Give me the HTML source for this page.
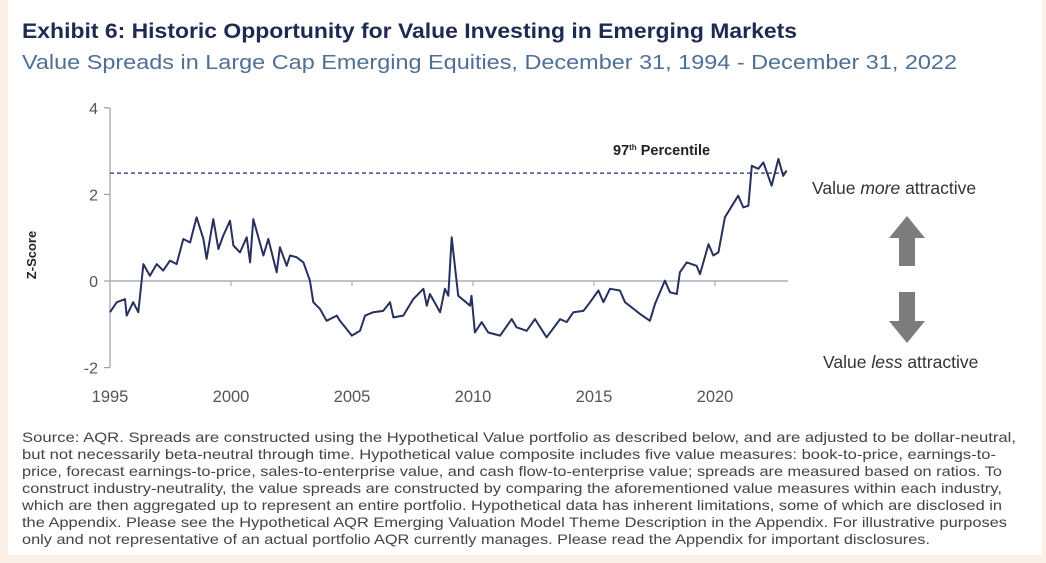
<!DOCTYPE html>
<html><head><meta charset="utf-8"><style>
body{margin:0;background:#fcefe6;}
svg{display:block;font-family:"Liberation Sans",sans-serif;}
</style></head><body>
<svg width="1046" height="563" viewBox="0 0 1046 563">
<rect x="8" y="0" width="1034" height="555" fill="#ffffff"/>
<text x="22" y="38" font-size="21" font-weight="bold" fill="#1f2a52" textLength="775" lengthAdjust="spacingAndGlyphs">Exhibit 6: Historic Opportunity for Value Investing in Emerging Markets</text>
<text x="22" y="69" font-size="20.5" fill="#4f6f96" textLength="935" lengthAdjust="spacingAndGlyphs">Value Spreads in Large Cap Emerging Equities, December 31, 1994 - December 31, 2022</text>
<g id="plot"></g>
<text transform="translate(36,255) rotate(-90)" text-anchor="middle" font-size="13" font-weight="bold" fill="#222">Z-Score</text>
<text x="613" y="155" font-size="14.5" font-weight="bold" fill="#222">97<tspan font-size="8" dy="-5">th</tspan><tspan dy="5"> Percentile</tspan></text>
<text x="812" y="194" font-size="17.5" fill="#333">Value <tspan font-style="italic">more</tspan> attractive</text>
<text x="823" y="368" font-size="17.5" fill="#333">Value <tspan font-style="italic">less</tspan> attractive</text>
<polygon points="907,216 889,238 899,238 899,266 915,266 915,238 925,238" fill="#7c7c7c"/>
<polygon points="907,343 889,321 899,321 899,292 915,292 915,321 925,321" fill="#7c7c7c"/>
<g font-size="14" fill="#444">
<text x="22" y="442" textLength="994" lengthAdjust="spacingAndGlyphs">Source: AQR. Spreads are constructed using the Hypothetical Value portfolio as described below, and are adjusted to be dollar-neutral,</text>
<text x="22" y="459" textLength="974" lengthAdjust="spacingAndGlyphs">but not necessarily beta-neutral through time. Hypothetical value composite includes five value measures: book-to-price, earnings-to-</text>
<text x="22" y="476" textLength="980" lengthAdjust="spacingAndGlyphs">price, forecast earnings-to-price, sales-to-enterprise value, and cash flow-to-enterprise value; spreads are measured based on ratios. To</text>
<text x="22" y="493" textLength="980" lengthAdjust="spacingAndGlyphs">construct industry-neutrality, the value spreads are constructed by comparing the aforementioned value measures within each industry,</text>
<text x="22" y="510" textLength="980" lengthAdjust="spacingAndGlyphs">which are then aggregated up to represent an entire portfolio. Hypothetical data has inherent limitations, some of which are disclosed in</text>
<text x="22" y="527" textLength="985" lengthAdjust="spacingAndGlyphs">the Appendix. Please see the Hypothetical AQR Emerging Valuation Model Theme Description in the Appendix. For illustrative purposes</text>
<text x="22" y="544" textLength="908" lengthAdjust="spacingAndGlyphs">only and not representative of an actual portfolio AQR currently manages. Please read the Appendix for important disclosures.</text>
</g>
</svg>
<script>
const years=[1995.00,1995.28,1995.62,1995.69,1995.96,1996.17,1996.38,1996.65,1996.93,1997.20,1997.48,1997.75,1998.03,1998.31,1998.58,1998.86,1998.99,1999.27,1999.48,1999.68,1999.96,2000.10,2000.37,2000.65,2000.79,2000.92,2001.34,2001.54,2001.89,2002.02,2002.30,2002.44,2002.71,2002.99,2003.26,2003.40,2003.68,2003.95,2004.37,2004.50,2004.78,2004.99,2005.33,2005.54,2005.88,2006.29,2006.57,2006.71,2007.12,2007.53,2007.95,2008.09,2008.22,2008.64,2008.84,2008.98,2009.12,2009.39,2009.88,2009.94,2010.08,2010.36,2010.63,2011.12,2011.60,2011.80,2012.22,2012.56,2013.04,2013.60,2013.87,2014.15,2014.56,2014.84,2015.18,2015.39,2015.66,2016.07,2016.28,2016.90,2017.31,2017.52,2017.93,2018.14,2018.42,2018.55,2018.83,2019.24,2019.38,2019.73,2019.93,2020.14,2020.41,2020.96,2021.17,2021.38,2021.52,2021.79,2022.00,2022.34,2022.62,2022.82,2022.96];
const zscores=[-0.72,-0.49,-0.42,-0.80,-0.49,-0.72,0.39,0.12,0.39,0.24,0.47,0.39,0.97,0.89,1.47,0.97,0.51,1.43,0.74,1.05,1.39,0.82,0.66,1.01,0.43,1.43,0.59,0.97,0.20,0.78,0.35,0.59,0.55,0.43,0.01,-0.49,-0.65,-0.92,-0.80,-0.92,-1.11,-1.26,-1.15,-0.80,-0.72,-0.69,-0.49,-0.84,-0.80,-0.42,-0.18,-0.57,-0.30,-0.72,-0.18,-0.34,1.01,-0.34,-0.57,-0.34,-1.19,-0.95,-1.19,-1.26,-0.88,-1.07,-1.15,-0.88,-1.30,-0.88,-0.95,-0.72,-0.69,-0.49,-0.22,-0.49,-0.18,-0.22,-0.49,-0.76,-0.92,-0.53,0.01,-0.26,-0.30,0.20,0.43,0.35,0.16,0.85,0.59,0.66,1.47,1.97,1.70,1.74,2.66,2.59,2.74,2.20,2.82,2.43,2.55];
const yTicks=[4,2,0,-2];
const xTicks=[1995,2000,2005,2010,2015,2020];
const percentile97=[2.49];
const NS="http://www.w3.org/2000/svg";
const X=y=>110+(y-1995)*24.2;
const Y=v=>281-v*43.3;
const g=document.getElementById('plot');
function mk(t,a){const e=document.createElementNS(NS,t);for(const k in a)e.setAttribute(k,a[k]);g.appendChild(e);return e;}
let ax=mk('line',{x1:110,y1:Y(4),x2:110,y2:Y(-2),stroke:'#9a9fb0','stroke-width':1.2});


yTicks.forEach(t=>{
 const tk=mk('line',{x1:104,y1:Y(t),x2:110,y2:Y(t),stroke:'#9a9fb0','stroke-width':1.2});
 
 
 const lb=mk('text',{x:98,y:Y(t)+6,'text-anchor':'end','font-size':16,fill:'#555'});
 lb.textContent=t;
 
 
});
let zl=mk('line',{x1:110,y1:Y(0),x2:788,y2:Y(0),stroke:'#9a9fb0','stroke-width':1.2});


xTicks.forEach(t=>{
 const tk=mk('line',{x1:X(t),y1:Y(0),x2:X(t),y2:Y(0)+5,stroke:'#9a9fb0','stroke-width':1});
 
 
 const lb=mk('text',{x:X(t),y:402,'text-anchor':'middle','font-size':16.5,fill:'#555'});
 lb.textContent=t;
 
 
});
let dl=mk('line',{x1:110,y1:Y(percentile97[0]),x2:785,y2:Y(percentile97[0]),stroke:'#3e4f86','stroke-width':1.5,'stroke-dasharray':'4,3'});


let d=years.map((yr,i)=>(i?'L':'M')+X(yr).toFixed(1)+','+Y(zscores[i]).toFixed(1)).join('');
let p=mk('path',{d:d,fill:'none',stroke:'#27305e','stroke-width':2,'stroke-linejoin':'round'});


</script>
</body></html>
